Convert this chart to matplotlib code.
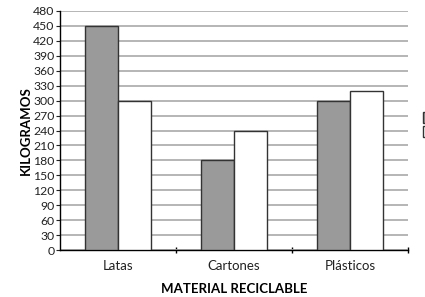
import matplotlib
matplotlib.use("Agg")
import matplotlib.pyplot as plt
from matplotlib.patches import Patch
import numpy as np

categories = ["Latas", "Cartones", "Plásticos"]
serie_gris = [450, 180, 300]
serie_blanca = [300, 240, 320]
yticks = list(range(0, 481, 30))

plt.rcParams['font.family'] = ['Lato', 'DejaVu Sans']

fig = plt.figure(figsize=(4.25, 2.97), dpi=100)
ax = fig.add_axes([0.141, 0.158, 0.819, 0.805])

x = np.arange(len(categories))
w = 0.285
ax.set_axisbelow(True)
ax.bar(x - w/2, serie_gris, width=w, color="#9a9a9a", edgecolor="#333333", linewidth=1.0, zorder=3)
ax.bar(x + w/2, serie_blanca, width=w, color="white", edgecolor="#333333", linewidth=1.0, zorder=3)

ax.set_xlim(-0.5, len(categories) - 0.5)
ax.set_ylim(0, 480)
ax.set_yticks(yticks)
ax.yaxis.grid(True, color="#b5b5b5", linewidth=1.4)
ax.tick_params(axis='y', labelsize=8.8, length=3, direction='out', pad=1, colors="#222222")
ax.set_xticks(x)
ax.set_xticklabels(categories)
ax.set_xticks(np.arange(len(categories)) + 0.5, minor=True)
ax.tick_params(axis='x', which='major', length=0, labelsize=9.5, pad=7, colors="#222222")
ax.tick_params(axis='x', which='minor', length=5, direction='inout', width=1)

for s in ['top', 'right']:
    ax.spines[s].set_visible(False)
ax.spines['left'].set_linewidth(1.0)
ax.spines['bottom'].set_linewidth(1.0)

ax.set_ylabel("KILOGRAMOS", fontsize=9.5, fontweight='bold', labelpad=1)
ax.set_xlabel("MATERIAL RECICLABLE", fontsize=9.5, fontweight='bold', labelpad=8)

handles = [Patch(facecolor="#9a9a9a", edgecolor="#333333"), Patch(facecolor="white", edgecolor="#333333")]
fig.legend(handles, ["", ""], loc='center left', bbox_to_anchor=(0.985, 0.58),
           frameon=False, fontsize=8, handlelength=0.7, handleheight=1.1, handletextpad=0.4,
           borderaxespad=0, labelspacing=0.3)

fig.savefig("out.png", dpi=100)
